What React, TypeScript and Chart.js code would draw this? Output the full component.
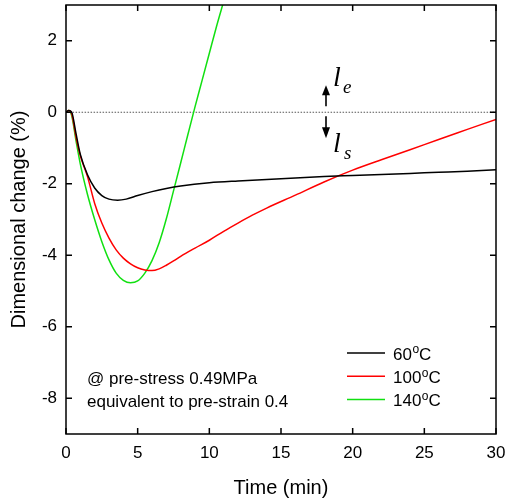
import React, { useEffect, useRef } from 'react';
import { Chart, registerables } from 'chart.js';

Chart.register(...registerables);

// ---- data ----
const t60 = [0, 0.2, 0.4, 0.7, 1.0, 1.5, 2.0, 2.5, 3.0, 3.6, 4.2, 5.0, 6.0, 7.0, 8.0, 10, 12, 14, 16, 18, 20, 22, 24, 26, 28, 30];
const v60 = [0, 0.05, 0.0, -0.6, -1.18, -1.75, -2.12, -2.33, -2.43, -2.46, -2.43, -2.33, -2.22, -2.13, -2.06, -1.97, -1.92, -1.88, -1.84, -1.8, -1.77, -1.74, -1.71, -1.68, -1.65, -1.61];

const t100 = [0, 0.2, 0.4, 0.7, 1.0, 1.5, 2.0, 2.5, 3.0, 3.5, 4.0, 4.5, 5.0, 5.5, 6.0, 6.5, 7.0, 7.5, 8.0, 9.0, 10, 11, 12, 13, 14, 16, 18, 20, 22, 24, 26, 28, 30];
const v100 = [0, 0.05, -0.05, -0.7, -1.22, -1.8, -2.55, -3.1, -3.52, -3.85, -4.08, -4.24, -4.35, -4.41, -4.43, -4.38, -4.28, -4.16, -4.03, -3.8, -3.58, -3.33, -3.1, -2.88, -2.68, -2.32, -1.95, -1.62, -1.33, -1.05, -0.76, -0.48, -0.2];

const t140 = [0, 0.2, 0.4, 0.7, 1.0, 1.5, 2.0, 2.5, 3.0, 3.5, 4.0, 4.5, 5.0, 5.5, 6.0, 6.5, 7.0, 7.5, 8.0, 8.5, 9.0, 9.5, 10, 10.5, 11.0, 11.5];
const v140 = [0, 0.05, -0.1, -0.8, -1.45, -2.3, -3.0, -3.62, -4.13, -4.5, -4.7, -4.77, -4.72, -4.5, -4.15, -3.65, -2.98, -2.2, -1.42, -0.63, 0.15, 0.9, 1.65, 2.4, 3.1, 3.8];

const tZero = [0.25, 30];
const vZero = [0, 0];

const seriesLabels = ['60', '100', '140'];
const seriesColors = ['#000000', '#ff0000', '#11e011'];

const xTicks = [0, 5, 10, 15, 20, 25, 30];
const yTicks = [-8, -6, -4, -2, 0, 2];

const noteLines = ['@ pre-stress 0.49MPa', 'equivalent to pre-strain 0.4'];

const SANS = '"Liberation Sans", Arial, sans-serif';
const SERIF = '"Liberation Serif", "Times New Roman", serif';

const pts = (t: number[], v: number[]) => t.map((x, i) => ({ x, y: v[i] }));

export default function App() {
  const ref = useRef<HTMLCanvasElement>(null);

  useEffect(() => {
    const canvas = ref.current!;

    const decor = {
      id: 'decor',
      afterDatasetsDraw(chart: any) {
        const ctx = chart.ctx as CanvasRenderingContext2D;
        const { left, right, top, bottom } = chart.chartArea;
        const xs = chart.scales.x;
        const ys = chart.scales.y;
        ctx.save();
        // frame
        ctx.strokeStyle = '#000';
        ctx.lineWidth = 1.5;
        ctx.strokeRect(left, top, right - left, bottom - top);
        // inward ticks
        const tl = 6;
        ctx.beginPath();
        xTicks.forEach((v) => {
          const px = xs.getPixelForValue(v);
          ctx.moveTo(px, bottom);
          ctx.lineTo(px, bottom - tl);
          ctx.moveTo(px, top);
          ctx.lineTo(px, top + tl);
        });
        yTicks.forEach((v) => {
          const py = ys.getPixelForValue(v);
          ctx.moveTo(left, py);
          ctx.lineTo(left + tl, py);
          ctx.moveTo(right, py);
          ctx.lineTo(right - tl, py);
        });
        ctx.stroke();

        // arrows
        const ax = 326;
        const y0 = ys.getPixelForValue(0);
        ctx.fillStyle = '#000';
        ctx.lineWidth = 1.6;
        ctx.beginPath();
        ctx.moveTo(ax, y0 - 6);
        ctx.lineTo(ax, y0 - 18);
        ctx.moveTo(ax, y0 + 4);
        ctx.lineTo(ax, y0 + 16);
        ctx.stroke();
        ctx.beginPath();
        ctx.moveTo(ax, y0 - 27);
        ctx.lineTo(ax - 4, y0 - 17);
        ctx.lineTo(ax + 4, y0 - 17);
        ctx.closePath();
        ctx.fill();
        ctx.beginPath();
        ctx.moveTo(ax, y0 + 26);
        ctx.lineTo(ax - 4, y0 + 15);
        ctx.lineTo(ax + 4, y0 + 15);
        ctx.closePath();
        ctx.fill();

        // l_e, l_s
        ctx.textBaseline = 'alphabetic';
        ctx.textAlign = 'left';
        ctx.font = `italic 28px ${SERIF}`;
        ctx.fillText('l', 333, y0 - 26);
        ctx.fillText('l', 333, y0 + 40);
        ctx.font = `italic 19px ${SERIF}`;
        ctx.fillText('e', 343, y0 - 19);
        ctx.fillText('s', 344, y0 + 47);

        // notes
        ctx.font = `17px ${SANS}`;
        ctx.fillText(noteLines[0], 87, 384);
        ctx.fillText(noteLines[1], 87, 406.5);

        // legend
        seriesLabels.forEach((lab, i) => {
          const ly = 353 + i * 23.3;
          ctx.strokeStyle = seriesColors[i];
          ctx.lineWidth = 1.5;
          ctx.beginPath();
          ctx.moveTo(347, ly);
          ctx.lineTo(385, ly);
          ctx.stroke();
          const bx = 393;
          const by = ly + 6.8;
          ctx.fillStyle = '#000';
          ctx.font = `17px ${SANS}`;
          ctx.fillText(lab, bx, by);
          const w = ctx.measureText(lab).width;
          ctx.font = `12px ${SANS}`;
          ctx.fillText('o', bx + w + 0.5, by - 6.5);
          const w2 = ctx.measureText('o').width;
          ctx.font = `17px ${SANS}`;
          ctx.fillText('C', bx + w + w2 + 0.5, by);
        });
        ctx.restore();
      },
    };

    const mk = (t: number[], v: number[], color: string) => ({
      data: pts(t, v),
      borderColor: color,
      backgroundColor: color,
      borderWidth: 1.5,
      pointRadius: 0,
      cubicInterpolationMode: 'monotone' as const,
      fill: false,
    });

    const chart = new Chart(canvas, {
      type: 'line',
      data: {
        datasets: [
          mk(t60, v60, seriesColors[0]),
          mk(t100, v100, seriesColors[1]),
          mk(t140, v140, seriesColors[2]),
          {
            data: pts(tZero, vZero),
            borderColor: '#555',
            borderWidth: 1.2,
            borderDash: [1.5, 1.5],
            pointRadius: 0,
            fill: false,
          },
        ],
      },
      options: {
        animation: false,
        responsive: false,
        devicePixelRatio: 1,
        layout: { padding: { left: 0, top: 5, right: 10, bottom: 0 } },
        plugins: { legend: { display: false }, tooltip: { enabled: false } },
        scales: {
          x: {
            type: 'linear',
            min: 0,
            max: 30,
            grid: { display: false, drawTicks: false },
            border: { display: false },
            afterBuildTicks: (s: any) => {
              s.ticks = xTicks.map((v) => ({ value: v }));
            },
            afterFit: (s: any) => {
              s.height = 68;
              s.paddingLeft = 0;
              s.paddingRight = 0;
            },
            ticks: { color: '#000', font: { family: SANS, size: 17 }, padding: 9, maxRotation: 0 },
            title: {
              display: true,
              text: 'Time (min)',
              color: '#000',
              font: { family: SANS, size: 20 },
              padding: { top: 0, bottom: 2 },
            },
          },
          y: {
            type: 'linear',
            min: -9,
            max: 3,
            grid: { display: false, drawTicks: false },
            border: { display: false },
            afterBuildTicks: (s: any) => {
              s.ticks = yTicks.map((v) => ({ value: v }));
            },
            afterFit: (s: any) => {
              s.width = 66;
              s.paddingTop = 0;
              s.paddingBottom = 0;
            },
            ticks: { color: '#000', font: { family: SANS, size: 17 }, padding: 9 },
            title: {
              display: true,
              text: 'Dimensional change (%)',
              color: '#000',
              font: { family: SANS, size: 20 },
              padding: { top: 7, bottom: 0 },
            },
          },
        },
      },
      plugins: [decor],
    });
    return () => chart.destroy();
  }, []);

  return (
    <div style={{ position: 'absolute', left: 0, top: 0, width: 506, height: 502 }}>
      <canvas ref={ref} width={506} height={502} style={{ display: 'block', width: 506, height: 502 }} />
    </div>
  );
}
